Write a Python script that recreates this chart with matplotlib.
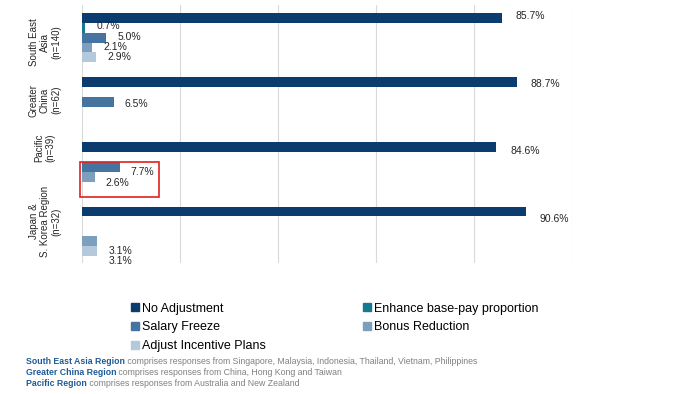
import numpy as np
import matplotlib.pyplot as plt
import matplotlib.transforms as mtransforms
from matplotlib.lines import Line2D
from matplotlib.patches import Rectangle

plt.rcParams["font.family"] = ["Liberation Sans", "DejaVu Sans"]

# ---------- data ----------
regions = ["South East\nAsia\n(n=140)", "Greater\nChina\n(n=62)",
           "Pacific\n(n=39)", "Japan &\nS. Korea Region\n(n=32)"]
series = ["No Adjustment", "Enhance base-pay proportion", "Salary Freeze",
          "Bonus Reduction", "Adjust Incentive Plans"]
no_adjustment = [85.7, 88.7, 84.6, 90.6]
enhance_base = [0.7, 0, 0, 0]
salary_freeze = [5.0, 6.5, 7.7, 0]
bonus_reduction = [2.1, 0, 2.6, 3.1]
adjust_incentive = [2.9, 0, 0, 3.1]
values = [no_adjustment, enhance_base, salary_freeze, bonus_reduction, adjust_incentive]

colors = ["#0B3B6F", "#17788F", "#44749F", "#7C9FBE", "#B4C9DB"]

footnotes = [
    ("South East Asia Region", "comprises responses from Singapore, Malaysia, Indonesia, Thailand, Vietnam, Philippines"),
    ("Greater China Region", "comprises responses from China, Hong Kong and Taiwan"),
    ("Pacific Region", "comprises responses from Australia and New Zealand"),
]

# ---------- layout ----------
GROUP_STEP = 6.5          # slots per region (5 bars + gap)
fig = plt.figure(figsize=(7, 3.94), dpi=100)
ax = fig.add_axes([0.117, 0.332, 0.70, 0.655])

for j, (name, vals) in enumerate(zip(series, values)):
    for i, v in enumerate(vals):
        if v == 0:
            continue
        y = i * GROUP_STEP + j
        ax.barh(y, v, height=1.0, color=colors[j], linewidth=0)
        # excel puts labels a little lower the further down the chart they are
        ylab = y * 1.05 - 0.2
        ax.annotate(f"{v:.1f}%", xy=(v, ylab), xytext=(8 if v < 50 else 10, 0),
                    textcoords="offset points", ha="left", va="center",
                    fontsize=7.5, color="#262626")

ax.set_xlim(0, 100)
ax.set_ylim(24.7, -1.26)
ax.set_xticks(np.arange(0, 101, 20))
ax.set_yticks([])
ax.tick_params(axis="x", length=0, labelbottom=False)
ax.grid(axis="x", color="#D9D9D9", linewidth=0.8)
ax.set_axisbelow(True)
for s in ax.spines.values():
    s.set_visible(False)

# region labels (rotated, left of the bars)
label_shift = [0.5, -0.2, -1.9, -1.0]
trans = mtransforms.blended_transform_factory(fig.transFigure, ax.transData)
for i, r in enumerate(regions):
    ax.text(0.064, i * GROUP_STEP + 2 + label_shift[i], r, transform=trans,
            rotation=90, ha="center", va="center", multialignment="center",
            fontsize=7, color="#262626", linespacing=1.15)

# red highlight box round the Pacific salary freeze / bonus bars
pac = 2 * GROUP_STEP
ax.add_patch(Rectangle((-0.3, pac + 1.55), 16.1, 3.5, fill=False,
                       edgecolor="#E0201F", linewidth=1.2, clip_on=False, zorder=5))

# ---------- legend ----------
handles = [Line2D([], [], marker="s", linestyle="none", markersize=5.5,
                  color=colors[k]) for k in range(5)]
order = [0, 2, 4, 1, 3]
fig.legend([handles[k] for k in order], [series[k] for k in order],
           loc="upper left", bbox_to_anchor=(0.187, 0.232), ncol=2,
           frameon=False, fontsize=9, handlelength=0.6, handletextpad=0.25,
           columnspacing=7.85, labelspacing=0.55, borderpad=0, borderaxespad=0)

# ---------- footnotes ----------
for k, (bold, rest) in enumerate(footnotes):
    yf = 1 - (362 + k * 10.7) / 394
    t = fig.text(0.037, yf, bold, fontsize=6.3, fontweight="bold",
                 color="#1F5B9A", va="center", ha="left")
    # grey remainder placed right after the bold part
    ax.annotate(" " + rest, xy=(1, 0.5), xycoords=t, ha="left", va="center",
                fontsize=6.3, color="#808080", annotation_clip=False)

fig.savefig("out.png", dpi=100)
